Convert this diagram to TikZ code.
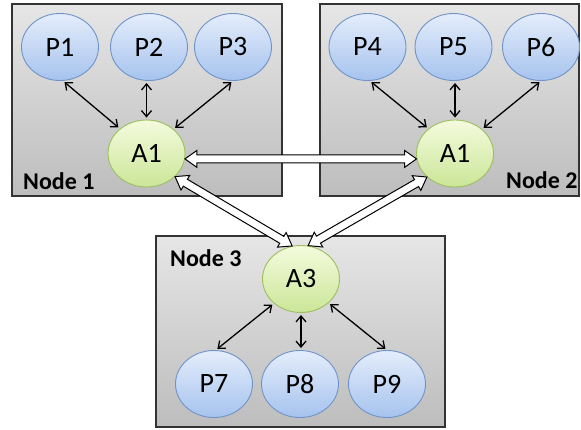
\documentclass[tikz,border=0pt]{standalone}
\usepackage{fontspec}
\setmainfont{Carlito}
\usetikzlibrary{arrows.meta,calc,shapes.geometric}

\definecolor{boxtop}{HTML}{E6E6E6}
\definecolor{boxbot}{HTML}{BDBDBD}
\definecolor{proctop}{HTML}{E4EDFB}
\definecolor{procbot}{HTML}{A6C3EE}
\definecolor{procline}{HTML}{6F93C8}
\definecolor{agenttop}{HTML}{F4FBDD}
\definecolor{agentbot}{HTML}{CBE698}
\definecolor{agentline}{HTML}{9CBF5F}

\tikzset{
  box/.style={draw=black!80, line width=1.5pt, top color=boxtop, bottom color=boxbot},
  proc/.style={ellipse, draw=procline, line width=0.9pt, top color=proctop,
    bottom color=procbot, minimum width=77pt, minimum height=67pt, inner sep=0pt,
    font=\fontsize{28}{28}\selectfont},
  agent/.style={ellipse, draw=agentline, line width=0.9pt, top color=agenttop,
    bottom color=agentbot, minimum width=77pt, minimum height=67pt, inner sep=0pt,
    font=\fontsize{28}{28}\selectfont},
  link/.style={line width=1.3pt,
    {Straight Barb[length=6pt,width=10pt]}-{Straight Barb[length=6pt,width=10pt]},
    shorten <=2pt, shorten >=2pt},
  wide/.style={draw=black, line width=1pt, fill=white, line join=miter},
  tag/.style={font=\bfseries\fontsize{24}{24}\selectfont, inner sep=0pt, anchor=base west}
}

% hollow two-headed block arrow between two points
\newcommand{\widearrow}[2]{%
  \coordinate (wa-s) at #1;
  \coordinate (wa-e) at #2;
  \coordinate (wa-h1) at ($(wa-s)!12pt!(wa-e)$);
  \coordinate (wa-h2) at ($(wa-e)!12pt!(wa-s)$);
  \draw[wide] (wa-s)
    -- ($(wa-h1)!8.5pt!90:(wa-e)$) -- ($(wa-h1)!4pt!90:(wa-e)$)
    -- ($(wa-h2)!4pt!-90:(wa-s)$) -- ($(wa-h2)!8.5pt!-90:(wa-s)$)
    -- (wa-e)
    -- ($(wa-h2)!8.5pt!90:(wa-s)$) -- ($(wa-h2)!4pt!90:(wa-s)$)
    -- ($(wa-h1)!4pt!-90:(wa-e)$) -- ($(wa-h1)!8.5pt!-90:(wa-e)$)
    -- cycle;}

\begin{document}
\begin{tikzpicture}[x=1pt, y=-1pt]
  \useasboundingbox (0,0) rectangle (581,429);

  % machine frames
  \draw[box] (12,4) rectangle (282,196);
  \draw[box] (320,4) rectangle (579,196);
  \draw[box] (156,236) rectangle (445,427);

  \node[tag] (n1) at (23,189) {Node 1};
  \node[tag] (n2) at (506,188) {Node 2};
  \node[tag] (n3) at (170,266) {Node 3};

  % processes
  \node[proc] (P1) at (60,47) {P1};
  \node[proc] (P2) at (149,47) {P2};
  \node[proc] (P3) at (233,47) {P3};
  \node[proc] (P4) at (367.5,47) {P4};
  \node[proc] (P5) at (453.5,47) {P5};
  \node[proc] (P6) at (541,47) {P6};
  \node[proc] (P7) at (214,384) {P7};
  \node[proc] (P8) at (300,384) {P8};
  \node[proc] (P9) at (387,384) {P9};

  % agents
  \node[agent] (A1a) at (146.5,153.5) {A1};
  \node[agent] (A1b) at (455,153.5) {A1};
  \node[agent] (A3) at (301,279) {A3};

  % local links
  \draw[link] (P1.-85) -- (A1a.137);
  \draw[link] (A1a.north |- P2.south) -- (A1a.north);
  \draw[link] (P3.south) -- (A1a.42);
  \draw[link] (P4.-86) -- (A1b.137);
  \draw[link] (A1b.north |- P5.south) -- (A1b.north);
  \draw[link] (P6.south) -- (A1b.42);
  \draw[link] (A3.222) -- (P7.87);
  \draw[link] (A3.south) -- (A3.south |- P8.north);
  \draw[link] (A3.-41) -- (P9.north);

  % inter-node links
  \widearrow{(A1a.-8)}{(A1b.188)}
  \widearrow{(A1a.-39.5)}{(A3.105)}
  \widearrow{(A1b.220)}{(A3.78)}
\end{tikzpicture}
\end{document}
